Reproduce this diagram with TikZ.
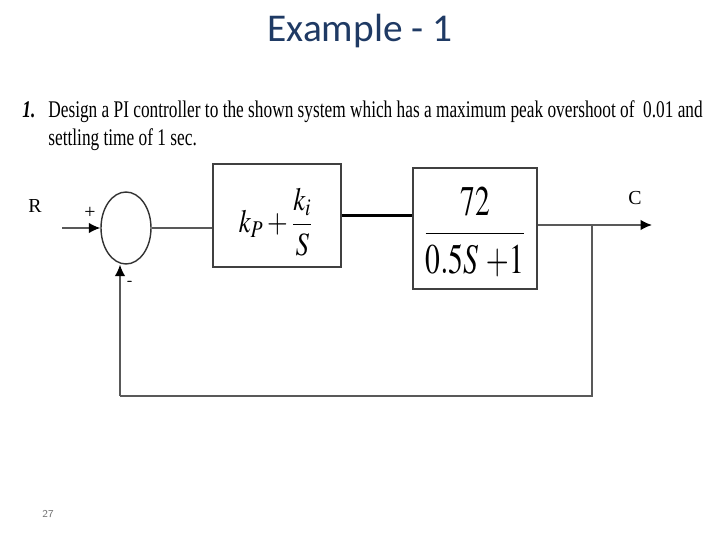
\documentclass[tikz,border=0pt]{standalone}
\usepackage{mathptmx}
\usepackage[no-math]{fontspec}
\usepackage{graphicx}
\usetikzlibrary{shapes.geometric,arrows.meta}
\setmainfont{Liberation Serif}
\newfontfamily\titlefont{Carlito}
\newfontfamily\probfont[FakeStretch=0.724]{Liberation Serif}
\definecolor{titleblue}{RGB}{31,58,100}

\begin{document}
\begin{tikzpicture}[
    x=0.02cm, y=-0.02cm,
    block/.style={rectangle, draw=black!75, line width=0.9pt, inner sep=0pt},
    sumnode/.style={ellipse, draw=black!80, line width=0.8pt, minimum width=1cm, minimum height=1.44cm, inner sep=0pt},
    wire/.style={draw=black!65, line width=0.9pt},
    arrow/.style={wire, -{Latex[length=6.5pt, width=6pt, black]}},
    lbl/.style={font=\fontsize{11.3}{13}\selectfont},
    prob/.style={anchor=base west, inner sep=0pt, font=\probfont\fontsize{13.6}{16}\selectfont}
]
\useasboundingbox (0,0) rectangle (720,540);

% Title and problem statement
\node[text=titleblue, font=\titlefont\fontsize{22.4}{27}\selectfont] (title) at (360,31) {Example - 1};
\node[prob, font=\probfont\fontsize{13.6}{16}\selectfont\bfseries\itshape] (num) at (22,118) {1.};
\node[prob] (line1) at (48,118) {Design a PI controller to the shown system which has a maximum peak overshoot of\ \ 0.01 and};
\node[prob] (line2) at (48,146) {settling time of 1 sec.};

% Blocks
\node[sumnode] (sum) at (126,228) {};
\node[block, minimum width=2.56cm, minimum height=2.06cm] (pi) at (277,215.5) {};
\node (pitext) at (276,222)
    {\scalebox{0.82}[1]{\fontsize{18.5}{20}\selectfont$\displaystyle k_P+\frac{k_i}{S}$}};
\node[block, minimum width=2.48cm, minimum height=2.42cm] (plant) at (475,228.5) {};
\node (planttext) at (475,232)
    {\scalebox{0.70}[1]{\fontsize{24}{28}\selectfont$\displaystyle \frac{72}{0.5S\,+\!1}$}};

% Signal points
\coordinate (in) at (62,228);
\coordinate (out) at (652,225);
\coordinate (branch) at (592,225);
\coordinate (fb) at (120,396);

% Labels
\node[lbl] (rlab) at (35,206) {R};
\node[lbl] (plus) at (90,213) {+};
\node[lbl] (clab) at (635,198) {C};
\node[font=\sffamily\bfseries\small] (minus) at (130,283) {-};
\node[text=black!55, font=\sffamily\fontsize{6}{7}\selectfont] (page) at (48,514) {27};

% Forward path
\draw[arrow] (in) -- (sum.west);
\draw[wire] (sum.east) -- (sum.east -| pi.west);
\draw[line width=1.6pt] (pi.east) -- (pi.east -| plant.west);
\draw[arrow] (plant.east |- out) -- (out);

% Feedback path
\draw[wire] (branch) |- (fb);
\draw[arrow] (fb) -- (fb |- sum.south);

\end{tikzpicture}
\end{document}
